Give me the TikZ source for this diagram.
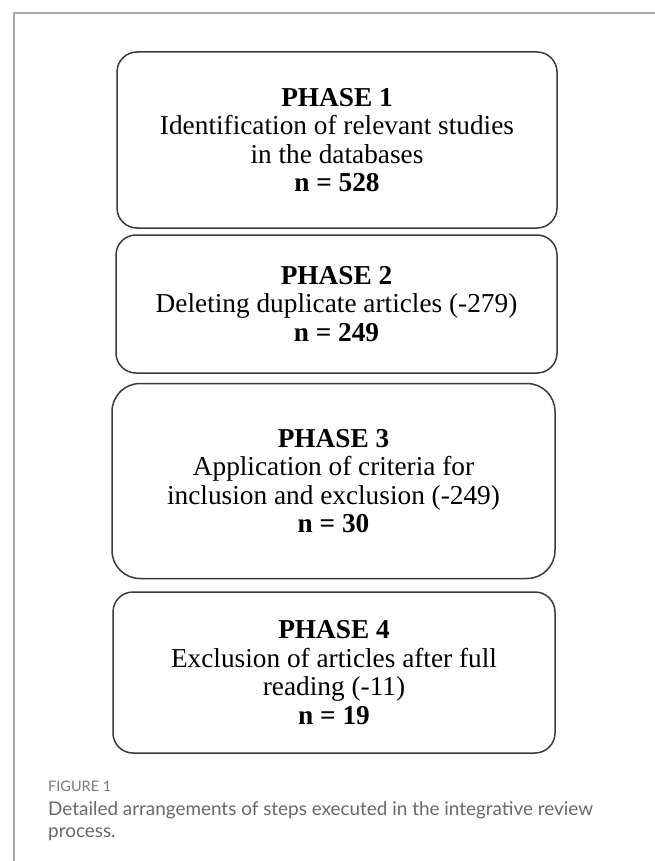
\documentclass[tikz,border=0pt]{standalone}
\usepackage{fontspec}
\setmainfont{Liberation Serif}
\newfontfamily\capfont{Lato}
\definecolor{boxline}{HTML}{3A3A3A}
\definecolor{frameline}{HTML}{AAAAAA}
\definecolor{figlabel}{HTML}{7A7A7A}
\definecolor{captext}{HTML}{686868}
\tikzset{
  phasebox/.style={draw=boxline, line width=1.5pt, rounded corners=20pt, align=center,
    font=\fontsize{27.3}{28.5}\selectfont, inner sep=0pt, text=black},
  figtag/.style={anchor=base west, inner sep=0pt, text=figlabel, font=\capfont\fontsize{14.5}{17}\selectfont},
  captionline/.style={anchor=base west, inner sep=0pt, text=captext, font=\capfont\fontsize{18.9}{22}\selectfont}
}
\begin{document}
\begin{tikzpicture}[x=1pt, y=-1pt]
\useasboundingbox (0,0) rectangle (655,861);
% frame
\draw[frameline, line width=1.2pt] (14,861) -- (14,13) -- (655,13);
% boxes
\node[phasebox, minimum width=440pt, minimum height=176pt] (p1) at (337,140)
  {\textbf{PHASE 1}\\Identification of relevant studies\\in the databases\\\textbf{n = 528}};
\node[phasebox, minimum width=441pt, minimum height=138pt] (p2) at (336.5,304)
  {\textbf{PHASE 2}\\Deleting duplicate articles (-279)\\\textbf{n = 249}};
\node[phasebox, rounded corners=28pt, minimum width=443pt, minimum height=195pt] (p3) at (333.5,481)
  {\textbf{PHASE 3}\\Application of criteria for\\inclusion and exclusion (-249)\\\textbf{n = 30}};
\node[phasebox, minimum width=442pt, minimum height=161pt] (p4) at (334,672.5)
  {\textbf{PHASE 4}\\Exclusion of articles after full\\reading (-11)\\\textbf{n = 19}};
% caption
\node[figtag] (fig) at (48,791) {FIGURE 1};
\node[captionline] (cap1) at (48,815) {Detailed arrangements of steps executed in the integrative review};
\node[captionline] (cap2) at (48,837) {process.};
\end{tikzpicture}
\end{document}
